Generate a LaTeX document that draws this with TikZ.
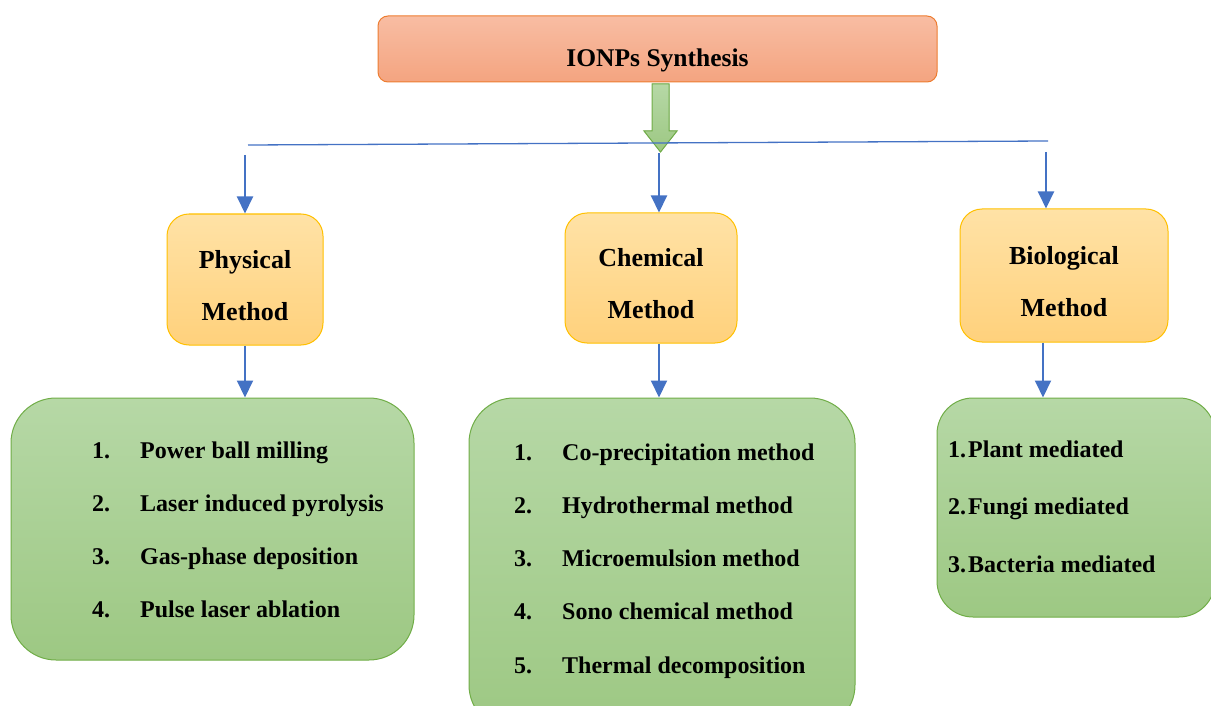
\documentclass[tikz,border=0pt]{standalone}
\usepackage{fontspec}
\setmainfont{Liberation Serif}
\usetikzlibrary{arrows.meta,calc}
\definecolor{blueline}{HTML}{4472C4}
\definecolor{titleedge}{HTML}{ED7D31}
\definecolor{titletop}{HTML}{F8BDA3}
\definecolor{titlebot}{HTML}{F4A480}
\definecolor{methodedge}{HTML}{FFC000}
\definecolor{methodtop}{HTML}{FFE2A6}
\definecolor{methodbot}{HTML}{FFD17C}
\definecolor{listedge}{HTML}{70AD47}
\definecolor{listtop}{HTML}{B6D8A6}
\definecolor{listbot}{HTML}{9DC883}
\newcommand{\upstrut}{\rule{0pt}{30pt}}
\tikzset{
  titlebox/.style={draw=titleedge, line width=1pt, rounded corners=10pt,
    top color=titletop, bottom color=titlebot, minimum width=559pt, minimum height=66pt,
    font=\fontsize{25.5}{30}\selectfont\bfseries, text height=36pt, text depth=0pt},
  methodbox/.style={draw=methodedge, line width=1pt, rounded corners=22pt,
    top color=methodtop, bottom color=methodbot, align=center,
    font=\fontsize{26}{52}\selectfont\bfseries},
  listbox/.style={draw=listedge, line width=1pt, top color=listtop, bottom color=listbot},
  item/.style={anchor=base west, inner sep=0pt, font=\fontsize{24}{28}\selectfont\bfseries},
  link/.style={blueline, line width=2pt, -{Triangle[width=16pt,length=17pt]}},
}
\begin{document}
\begin{tikzpicture}[x=1pt,y=-1pt]
   \useasboundingbox (0,0) rectangle (1211,706);
   % top node and the big arrow
   \node[titlebox] (top) at (657.5,49) {IONPs Synthesis};
   \filldraw[draw=listedge, line width=1pt, top color=listtop, bottom color=listbot]
      (652,84)--(669,84)--(669,131)--(677,131)--(660.5,152)--(644,131)--(652,131)--cycle;
   % bus line
   \coordinate (busL) at (248,145);
   \coordinate (busR) at (1048,141);
   \draw[blueline, line width=1.3pt] (busL) -- (busR);
   \coordinate (b1) at (245,155);
   \coordinate (b2) at (659,153);
   \coordinate (b3) at (1046,152);
   % methods
   \node[methodbox, minimum width=156pt, minimum height=131pt] (phy) at (245,279.5) {\upstrut Physical\\Method};
   \node[methodbox, minimum width=172pt, minimum height=130pt] (chem) at (651,278) {\upstrut Chemical\\Method};
   \node[methodbox, minimum width=208pt, minimum height=133pt] (bio) at (1064,275.5) {\upstrut Biological\\Method};
   % lists
   \node[listbox, rounded corners=45pt, minimum width=403pt, minimum height=262pt] (phylist) at (212.5,529) {};
   \node[listbox, rounded corners=45pt, minimum width=386pt, minimum height=332pt] (chemlist) at (662,564) {};
   \node[listbox, rounded corners=36pt, minimum width=278pt, minimum height=219pt] (biolist) at (1076,507.5) {};
   % arrows
   \draw[link] (b1) -- (b1 |- phy.north);
   \draw[link] (b2) -- (b2 |- chem.north);
   \draw[link] (b3) -- (b3 |- bio.north);
   \draw[link] (phy.south) -- (phy.south |- phylist.north);
   \draw[link] ([xshift=8pt]chem.south) -- ([xshift=8pt]chem.south |- chemlist.north);
   \draw[link] ([xshift=-21pt]bio.south) -- ([xshift=-21pt]bio.south |- biolist.north);
   % items
   \foreach \t [count=\i] in {Power ball milling, Laser induced pyrolysis, Gas-phase deposition, Pulse laser ablation}{
      \node[item] (phyn\i) at (92,405+53*\i) {\i.};
      \node[item] (phyi\i) at (140,405+53*\i) {\t};
   }
   \foreach \t [count=\i] in {Co-precipitation method, Hydrothermal method, Microemulsion method, Sono chemical method, Thermal decomposition}{
      \node[item] (chemn\i) at (514,406.75+53.25*\i) {\i.};
      \node[item] (chemi\i) at (562,406.75+53.25*\i) {\t};
   }
   \foreach \t [count=\i] in {Plant mediated, Fungi mediated, Bacteria mediated}{
      \node[item] (bion\i) at (948,399.5+57.5*\i) {\i.};
      \node[item] (bioi\i) at (968,399.5+57.5*\i) {\t};
   }
\end{tikzpicture}
\end{document}
